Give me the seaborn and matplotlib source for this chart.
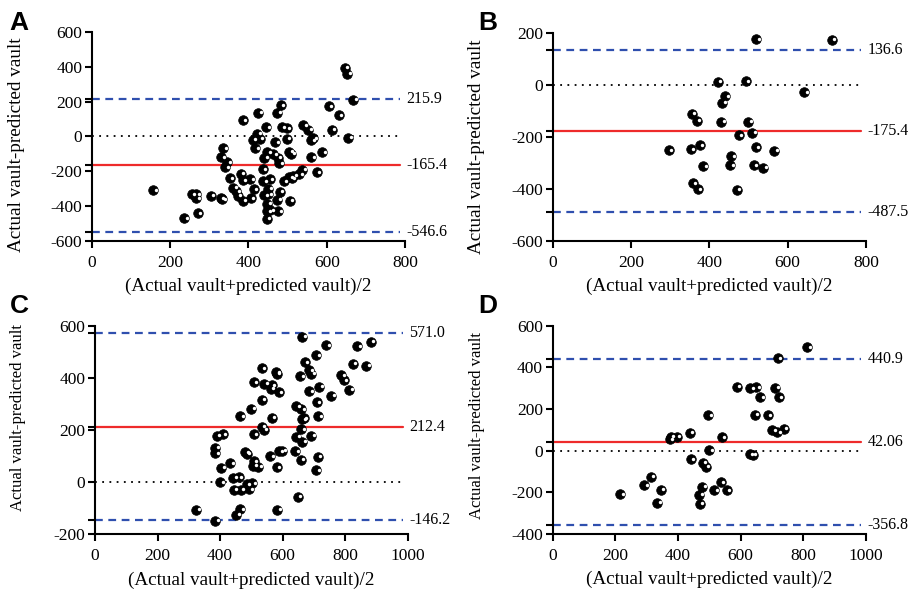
import numpy as np
import pandas as pd
import matplotlib
matplotlib.use("Agg")
import matplotlib.pyplot as plt
import matplotlib.transforms as mtransforms
import seaborn as sns

# ---------------- dados ----------------
# Painel A
a_x = [156, 236, 255, 267, 267, 271, 303, 329, 333, 335, 331, 341, 346, 352, 361, 369, 372,
       380, 386, 386, 386, 404, 406, 413, 411, 417, 423, 425, 429, 436, 438, 440, 445, 448,
       440, 448, 448, 447, 450, 451, 454, 456, 463, 469, 473, 475, 479, 473, 476, 480, 483,
       485, 490, 498, 498, 504, 509, 505, 504, 511, 515, 530, 538, 540, 553, 561, 565, 560,
       575, 588, 605, 613, 631, 646, 653, 668, 655]
a_y = [-310, -468, -330, -333, -353, -441, -341, -353, -360, -66, -119, -175, -148, -241,
       -295, -314, -341, -214, 94, -252, -368, -245, -353, -302, -19, -69, 17, 137, -13,
       -187, -256, -121, 54, -91, -337, -387, -430, -472, -299, -333, -245, -422, -102, -33,
       137, -121, -152, -364, -430, -318, 179, 54, -256, 48, -13, -87, -98, -368, -233, -241,
       -225, -218, -191, 64, 40, -21, -10, -118, -206, -91, 175, 40, 121, 395, 360, 210, -6]
a_lines = [215.9, -165.4, -546.6]

# Painel B
b_x = [520, 712, 422, 493, 441, 433, 642, 355, 368, 430, 499, 510, 475, 296, 352, 376, 519,
       566, 456, 385, 454, 513, 538, 358, 370, 470]
b_y = [178, 175, 14, 15, -42, -68, -27, -110, -136, -140, -140, -183, -192, -251, -246, -232,
       -239, -253, -274, -311, -308, -308, -318, -378, -400, -403]
b_lines = [136.6, -175.4, -487.5]

# Painel C
c_x = [662, 740, 839, 882, 671, 708, 533, 579, 582, 656, 685, 692, 824, 868, 787, 796, 813,
       507, 541, 565, 562, 587, 685, 717, 756, 533, 709, 643, 660, 500, 465, 566, 662, 668,
       714, 534, 539, 660, 507, 643, 691, 663, 389, 408, 385, 385, 481, 485, 561, 590, 599,
       640, 658, 712, 403, 433, 508, 506, 522, 582, 708, 400, 442, 459, 443, 466, 485, 493,
       503, 649, 323, 464, 451, 583, 385]
c_y = [558, 525, 522, 539, 460, 487, 437, 421, 416, 407, 430, 416, 455, 446, 410, 391, 354,
       383, 378, 373, 359, 346, 350, 367, 331, 317, 307, 292, 280, 282, 253, 248, 241, 246,
       253, 213, 201, 203, 185, 175, 179, 156, 179, 185, 132, 112, 116, 110, 100, 119, 121,
       119, 86, 98, 56, 73, 80, 64, 59, 57, 46, 0, 17, 20, -28, -28, -8, -27, -3, -55, -105,
       -103, -124, -105, -147]
c_lines = [571.0, 212.4, -146.2]

# Painel D
d_x = [812, 718, 587, 630, 649, 711, 662, 721, 497, 645, 687, 701, 717, 738, 438, 539, 377,
       374, 396, 499, 629, 639, 441, 479, 489, 313, 293, 345, 334, 215, 478, 468, 469, 515,
       537, 556]
d_y = [497, 444, 307, 300, 304, 302, 257, 257, 169, 173, 169, 99, 89, 105, 85, 64, 67, 54,
       67, 3, -18, -19, -40, -59, -78, -125, -165, -187, -249, -209, -174, -211, -254, -189,
       -152, -189]
d_lines = [440.9, 42.06, -356.8]
d_labels = ["440.9", "42.06", "-356.8"]

panel_letters = ["A", "B", "C", "D"]
x_label = "(Actual vault+predicted vault)/2"
y_label = "Actual vault-predicted vault"

# ---------------- estilo ----------------
sns.set_theme(style="ticks")
plt.rcParams["font.family"] = ["Liberation Serif", "DejaVu Serif"]
plt.rcParams["axes.unicode_minus"] = False

BLUE = "#2f4fae"
RED = "#ee2b2b"

fig = plt.figure(figsize=(9.17, 5.94), dpi=100)

paineis = [
    # pos, x, y, linhas, rótulos, xlim, ylim, letra (px), ylabel (coords, tamanho)
    ([0.1003, 0.5943, 0.3413, 0.3519], a_x, a_y, a_lines, None, (0, 800), (-600, 600),
     (9, 30), (-0.215, 0.46, 13.8)),
    ([0.6027, 0.5943, 0.3417, 0.3496], b_x, b_y, b_lines, None, (0, 800), (-600, 200),
     (478, 30), (-0.215, 0.452, 13.8)),
    ([0.1036, 0.1002, 0.3410, 0.3515], c_x, c_y, c_lines, None, (0, 1000), (-200, 600),
     (10, 313), (-0.222, 0.558, 12.0)),
    ([0.6027, 0.1010, 0.3417, 0.3510], d_x, d_y, d_lines, d_labels, (0, 1000), (-400, 600),
     (478, 313), (-0.215, 0.52, 12.0)),
]

for letra, (pos, xs, ys, linhas, rotulos, xlim, ylim, lpos, ylab) in zip(panel_letters, paineis):
    ax = fig.add_axes(pos)
    df = pd.DataFrame({"x": xs, "y": ys})

    # linhas de Bland-Altman
    ax.axhline(0, xmin=0, xmax=0.985, color="black", ls=(0, (1, 3)), lw=1.3, zorder=1)
    ax.axhline(linhas[0], xmin=0, xmax=0.985, color=BLUE, ls=(0, (3.5, 2.5)), lw=1.6, zorder=1)
    ax.axhline(linhas[1], xmin=0, xmax=0.985, color=RED, ls="-", lw=1.6, zorder=1)
    ax.axhline(linhas[2], xmin=0, xmax=0.985, color=BLUE, ls=(0, (3.5, 2.5)), lw=1.6, zorder=1)

    # pontos (círculo preto com pequeno brilho branco)
    sns.scatterplot(data=df, x="x", y="y", ax=ax, s=48, color="black",
                    edgecolor="black", linewidth=0.5, zorder=3, legend=False)
    brilho = mtransforms.offset_copy(ax.transData, fig=fig, x=1.8, y=0.3, units="points")
    ax.scatter(df["x"], df["y"], s=6, color="white", linewidths=0, transform=brilho, zorder=4)

    # rótulos dos valores à direita
    if rotulos is None:
        rotulos = [f"{v:.1f}" for v in linhas]
    trans = mtransforms.blended_transform_factory(ax.transAxes, ax.transData)
    for v, t in zip(linhas, rotulos):
        ax.text(1.005, v, t, transform=trans, ha="left", va="center", fontsize=11.5,
                color="black")

    ax.set_xlim(*xlim)
    ax.set_ylim(*ylim)
    ax.set_xticks(np.arange(xlim[0], xlim[1] + 1, 200))
    ax.set_yticks(np.arange(ylim[0], ylim[1] + 1, 200))
    ax.set_yticks(list(linhas), minor=True)
    ax.tick_params(axis="both", which="both", direction="out", length=5, width=1.5,
                   color="black", labelsize=12.5, labelcolor="black", pad=2)
    ax.tick_params(axis="x", pad=5)
    sns.despine(ax=ax)
    for s in ["left", "bottom"]:
        ax.spines[s].set_linewidth(1.5)
        ax.spines[s].set_color("black")
    ax.set_xlabel(x_label, fontsize=13.8, labelpad=5, color="black")
    ax.set_ylabel(y_label, fontsize=ylab[2], color="black")
    ax.yaxis.set_label_coords(ylab[0], ylab[1])
    ax.patch.set_alpha(0)

    # letra do painel
    fig.text(lpos[0] / 917, 1 - lpos[1] / 594, letra,
             family="Liberation Sans", fontweight="bold", fontsize=19,
             color="black", ha="left", va="baseline")

fig.savefig("out.png", dpi=100)
